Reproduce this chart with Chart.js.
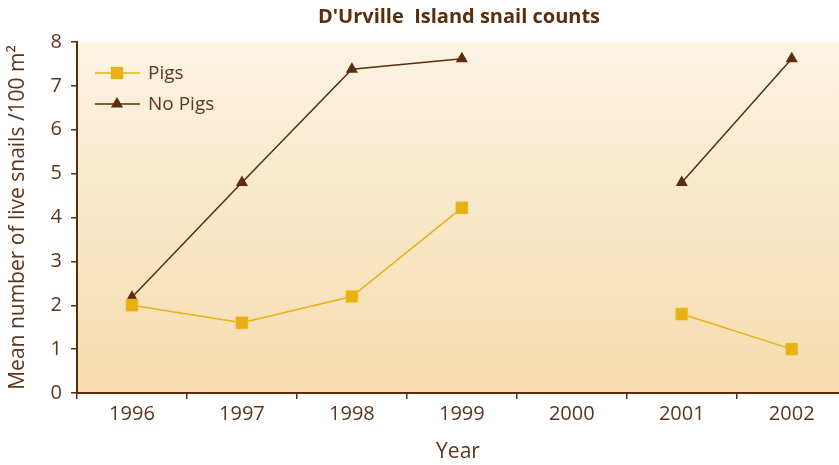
<!DOCTYPE html>
<html>
<head>
<meta charset="utf-8">
<script src="https://cdn.jsdelivr.net/npm/chart.js@4.4.1/dist/chart.umd.min.js"></script>
<style>
  html, body { margin: 0; padding: 0; background: #fff; overflow: hidden; }
  #wrap { width: 839px; height: 465px; position: relative; }
</style>
</head>
<body>
<div id="wrap"><canvas id="snailChart"></canvas></div>
<script>
// data
const years = [1996, 1997, 1998, 1999, 2000, 2001, 2002];
const pigs = [2.0, 1.6, 2.2, 4.22, null, 1.8, 1.0];
const noPigs = [2.18, 4.8, 7.38, 7.62, null, 4.8, 7.62];
const yTicks = [0, 1, 2, 3, 4, 5, 6, 7, 8];

const brown = "#5a2d0c";
const textBrown = "#5a361e";
const gold = "#e9b011";
const font = "'Open Sans', 'Noto Sans', sans-serif";

// the original plot is cut off on the right, just short of the last tick
const xMin = years[0] - 0.5;
const xMax = years[years.length - 1] + 0.43;

function isHalf(v) {
    return !Number.isInteger(v) && Math.abs(v * 2 - Math.round(v * 2)) < 1e-6;
}

// cream background + title + inline legend
const decor = {
    id: "decor",
    beforeDraw: function (chart) {
        const a = chart.chartArea;
        const ctx = chart.ctx;
        const g = ctx.createLinearGradient(0, a.top, 0, a.bottom);
        g.addColorStop(0, "#fcf3e3");
        g.addColorStop(1, "#f6dcae");
        ctx.save();
        ctx.fillStyle = g;
        ctx.fillRect(a.left, a.top, a.right - a.left, a.bottom - a.top);
        ctx.restore();
    },
    afterDraw: function (chart) {
        const ctx = chart.ctx;
        ctx.save();
        ctx.fillStyle = brown;
        ctx.font = "bold 20px " + font;
        ctx.textAlign = "center";
        ctx.textBaseline = "middle";
        ctx.fillText("D'Urville  Island snail counts", 459, 17);

        const rows = [
            { ds: chart.data.datasets[0], y: 73 },
            { ds: chart.data.datasets[1], y: 104 }
        ];
        rows.forEach(function (r) {
            ctx.strokeStyle = r.ds.borderColor;
            ctx.lineWidth = r.ds.borderWidth;
            ctx.beginPath();
            ctx.moveTo(95, r.y);
            ctx.lineTo(140, r.y);
            ctx.stroke();
            ctx.fillStyle = r.ds.pointBackgroundColor;
            Chart.helpers.drawPoint(ctx, {
                pointStyle: r.ds.pointStyle,
                radius: r.ds.pointRadius,
                rotation: 0,
                borderWidth: 0
            }, 117, r.y);
            ctx.fillStyle = textBrown;
            ctx.font = "19px " + font;
            ctx.textAlign = "left";
            ctx.fillText(r.ds.label, 148, r.y + 1);
        });
        ctx.restore();
    }
};

new Chart(document.getElementById("snailChart"), {
    type: "line",
    data: {
        datasets: [{
            label: "Pigs",
            data: years.map((yr, i) => ({ x: yr, y: pigs[i] })),
            borderColor: gold,
            backgroundColor: gold,
            pointBackgroundColor: gold,
            pointBorderColor: "#f3cf6a",
            pointBorderWidth: 0.5,
            borderWidth: 1.5,
            pointStyle: "rect",
            pointRadius: 8.7,
            pointHoverRadius: 8.7,
            spanGaps: false
        }, {
            label: "No Pigs",
            data: years.map((yr, i) => ({ x: yr, y: noPigs[i] })),
            borderColor: brown,
            backgroundColor: brown,
            pointBackgroundColor: brown,
            pointBorderColor: brown,
            pointBorderWidth: 0,
            borderWidth: 1.5,
            pointStyle: "triangle",
            pointRadius: 7,
            pointHoverRadius: 7,
            spanGaps: false
        }]
    },
    options: {
        responsive: true,
        maintainAspectRatio: false,
        animation: false,
        layout: {
            autoPadding: false,
            padding: { top: 42, left: 0, right: 0, bottom: 0 }
        },
        plugins: {
            legend: { display: false },
            title: { display: false },
            tooltip: { enabled: false }
        },
        scales: {
            x: {
                type: "linear",
                min: xMin,
                max: xMax,
                afterBuildTicks: function (s) {
                    const t = [];
                    years.forEach(function (yr) {
                        t.push({ value: yr - 0.5 });
                        t.push({ value: yr });
                    });
                    s.ticks = t;
                },
                grid: {
                    drawOnChartArea: false,
                    drawTicks: true,
                    tickLength: 6,
                    color: function (c) {
                        return c.tick && isHalf(c.tick.value) ? brown : "rgba(0,0,0,0)";
                    },
                    lineWidth: 1.5
                },
                border: { color: brown, width: 2 },
                ticks: {
                    color: textBrown,
                    font: { family: font, size: 20 },
                    padding: 3,
                    maxRotation: 0,
                    autoSkip: false,
                    callback: function (v) {
                        return Number.isInteger(v) ? String(v) : "";
                    }
                },
                title: {
                    display: true,
                    text: "Year",
                    color: textBrown,
                    font: { family: font, size: 21 },
                    padding: { top: 4, bottom: 0 }
                },
                afterFit: function (s) {
                    s.height = 72;
                    s.paddingLeft = 0;
                    s.paddingRight = 0;
                }
            },
            y: {
                min: 0,
                max: 8,
                afterBuildTicks: function (s) {
                    s.ticks = yTicks.map(function (v) { return { value: v }; });
                },
                grid: {
                    drawOnChartArea: false,
                    drawTicks: true,
                    tickLength: 6,
                    color: brown,
                    lineWidth: 1.5
                },
                border: { color: brown, width: 2 },
                ticks: {
                    color: textBrown,
                    font: { family: font, size: 20 },
                    padding: 9
                },
                title: {
                    display: true,
                    text: "Mean number of live snails /100 m²",
                    color: textBrown,
                    font: { family: font, size: 21 },
                    padding: { top: 5, bottom: 0 }
                },
                afterFit: function (s) { s.width = 77; }
            }
        }
    },
    plugins: [decor]
});
</script>
</body>
</html>
